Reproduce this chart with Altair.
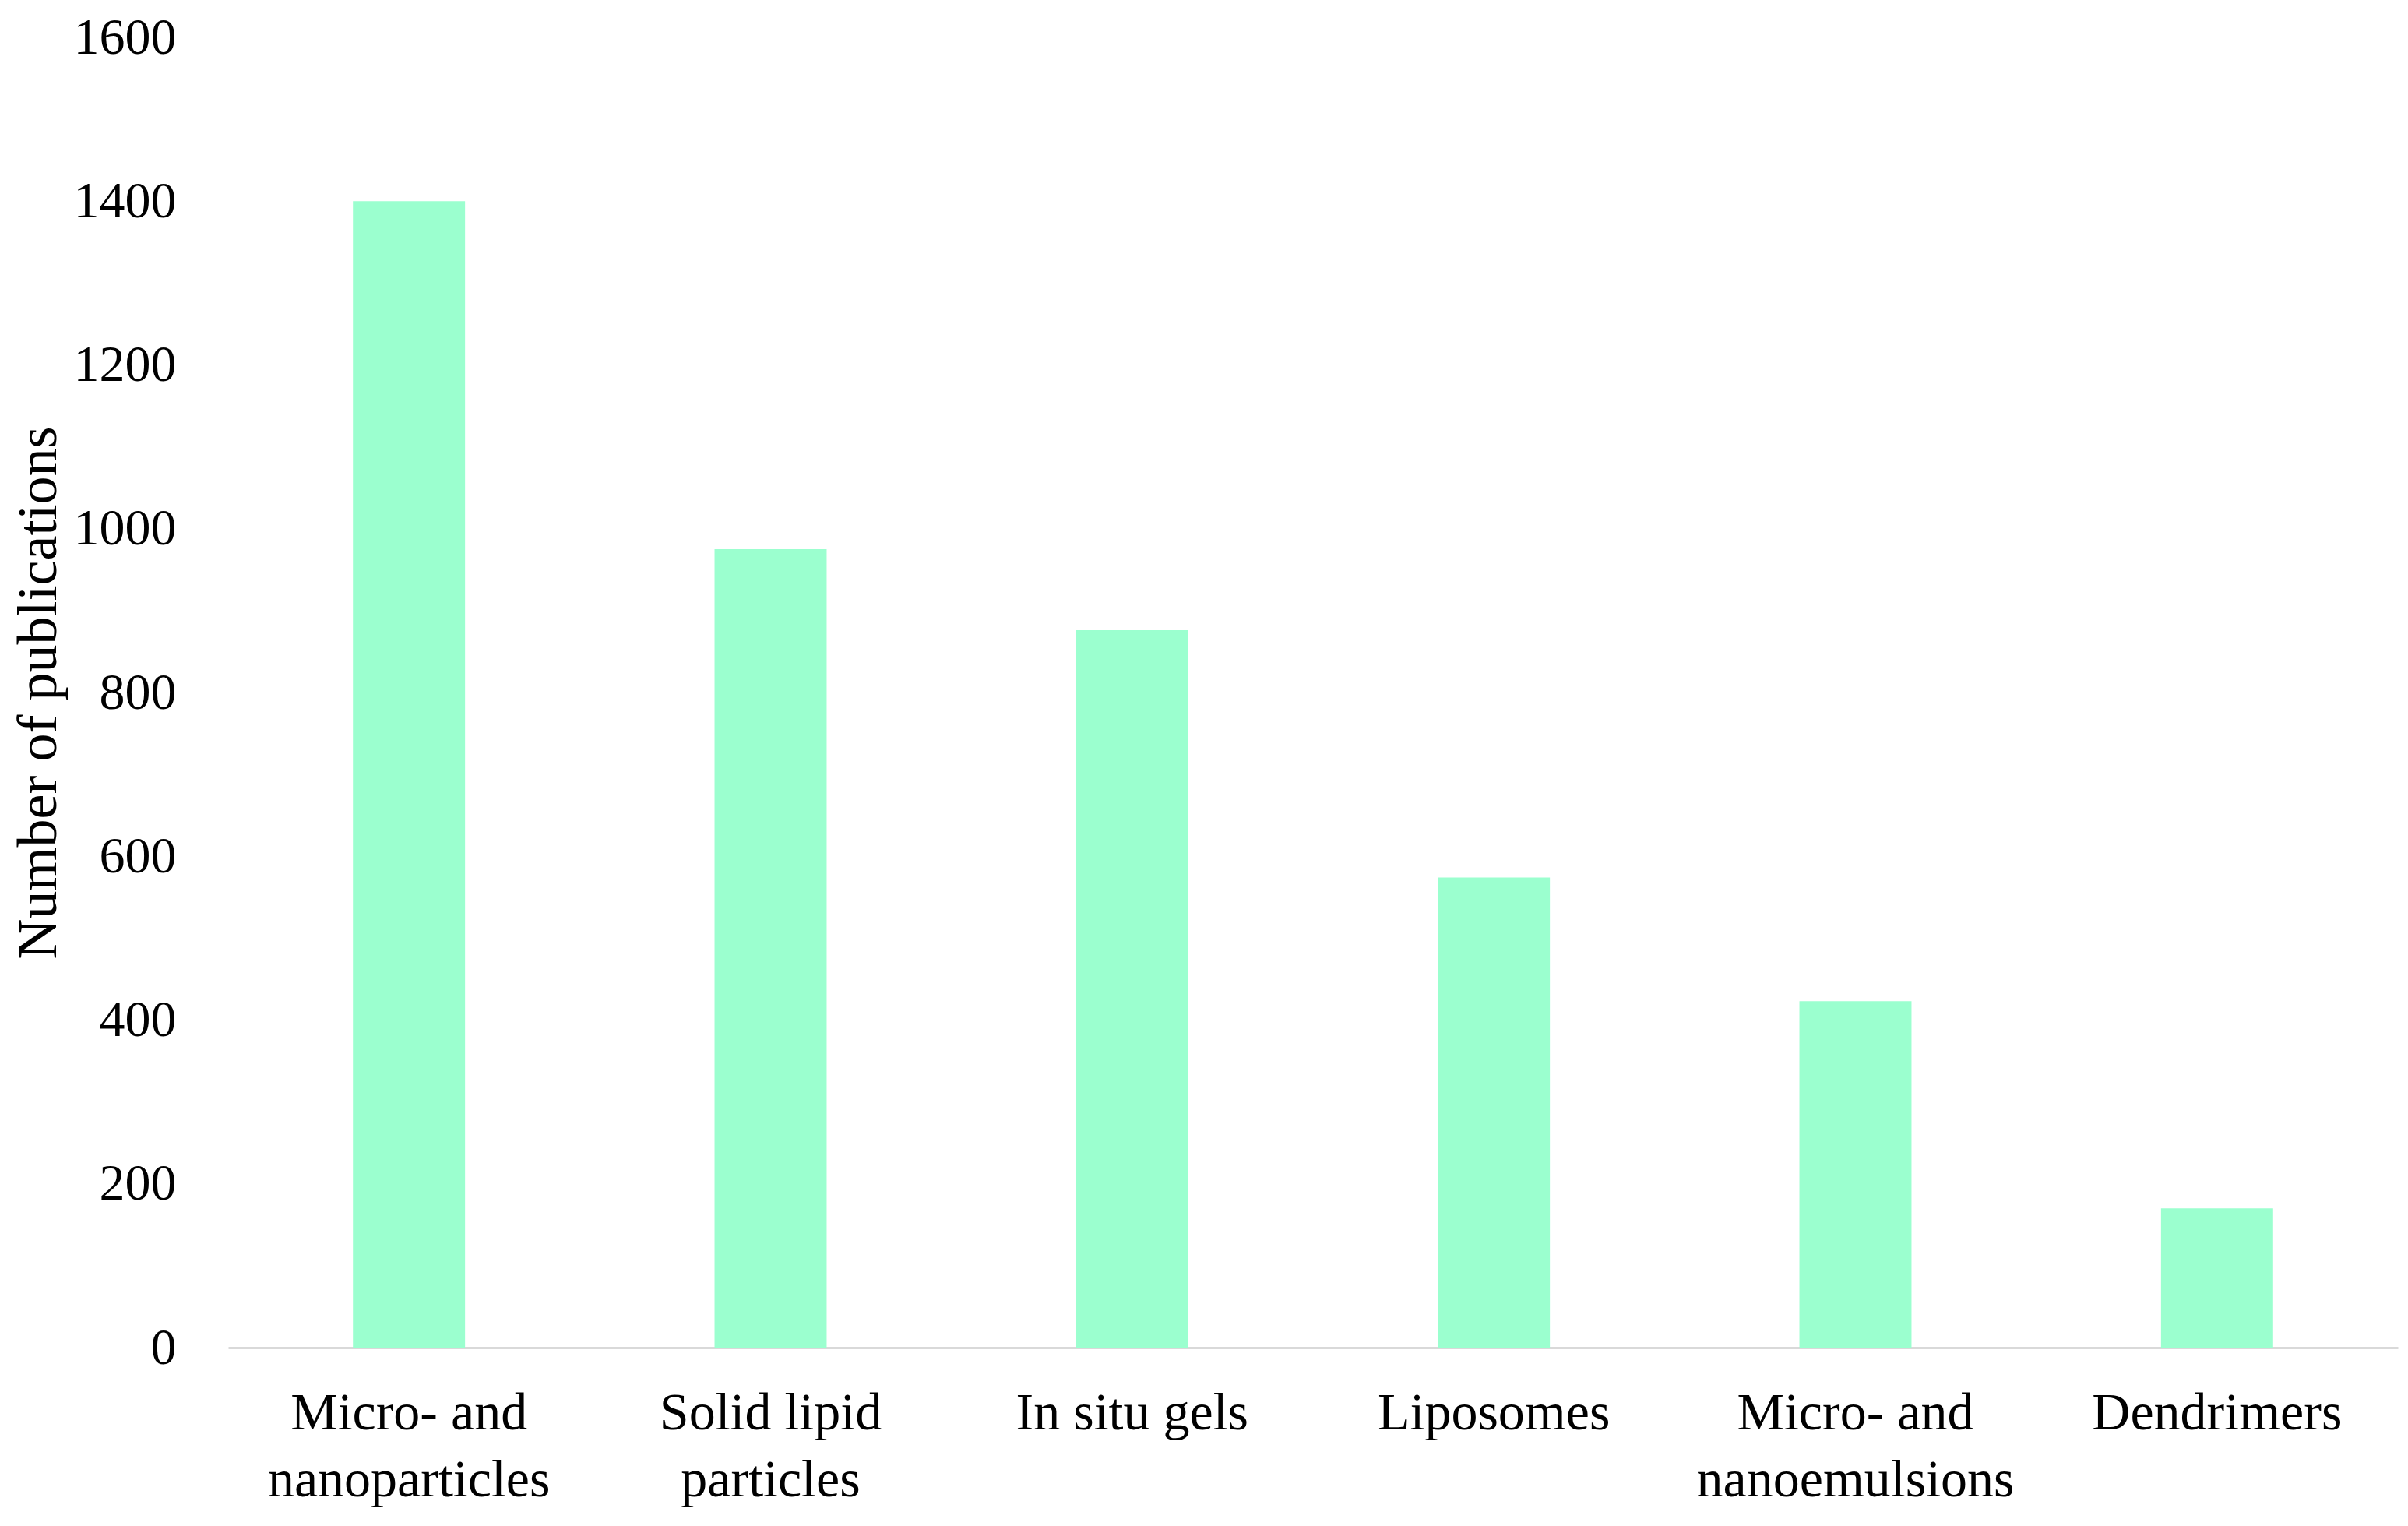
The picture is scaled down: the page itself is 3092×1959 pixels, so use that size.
import altair as alt
import pandas as pd

categories = [
    "Micro- and\nnanoparticles",
    "Solid lipid\nparticles",
    "In situ gels",
    "Liposomes",
    "Micro- and\nnanoemulsions",
    "Dendrimers",
]
publications = [1400, 975, 876, 574, 423, 170]
y_ticks = [0, 200, 400, 600, 800, 1000, 1200, 1400, 1600]

df = pd.DataFrame({"category": categories, "publications": publications})

FONT = "Liberation Serif"

chart = (
    alt.Chart(df)
    .mark_bar(color="#9BFFCF")
    .encode(
        x=alt.X(
            "category:N",
            sort=categories,
            scale=alt.Scale(paddingInner=0.69, paddingOuter=0.345),
            axis=alt.Axis(
                title=None,
                labelAngle=0,
                labelExpr="split(datum.value, '\\n')",
                labelFont=FONT,
                labelFontSize=68,
                labelColor="#000000",
                labelLineHeight=86,
                labelPadding=50,
                labelBaseline="top",
                labelLimit=0,
                ticks=False,
                domainColor="#D9D9D9",
                domainWidth=3,
                grid=False,
            ),
        ),
        y=alt.Y(
            "publications:Q",
            scale=alt.Scale(domain=[0, 1600]),
            axis=alt.Axis(
                title="Number of publications",
                values=y_ticks,
                format="d",
                titleFont=FONT,
                titleFontSize=72,
                titleFontWeight="normal",
                titleColor="#000000",
                titlePadding=8,
                labelFont=FONT,
                labelFontSize=66,
                labelColor="#000000",
                labelPadding=67,
                ticks=False,
                domain=False,
                grid=False,
            ),
        ),
    )
    .properties(
        width=2786,
        height=1682,
        padding={"left": 5, "top": 7, "right": 5, "bottom": 5},
    )
    .configure_view(stroke=None)
)

chart.save("out.html", embed_options={"renderer": "svg", "actions": False})
